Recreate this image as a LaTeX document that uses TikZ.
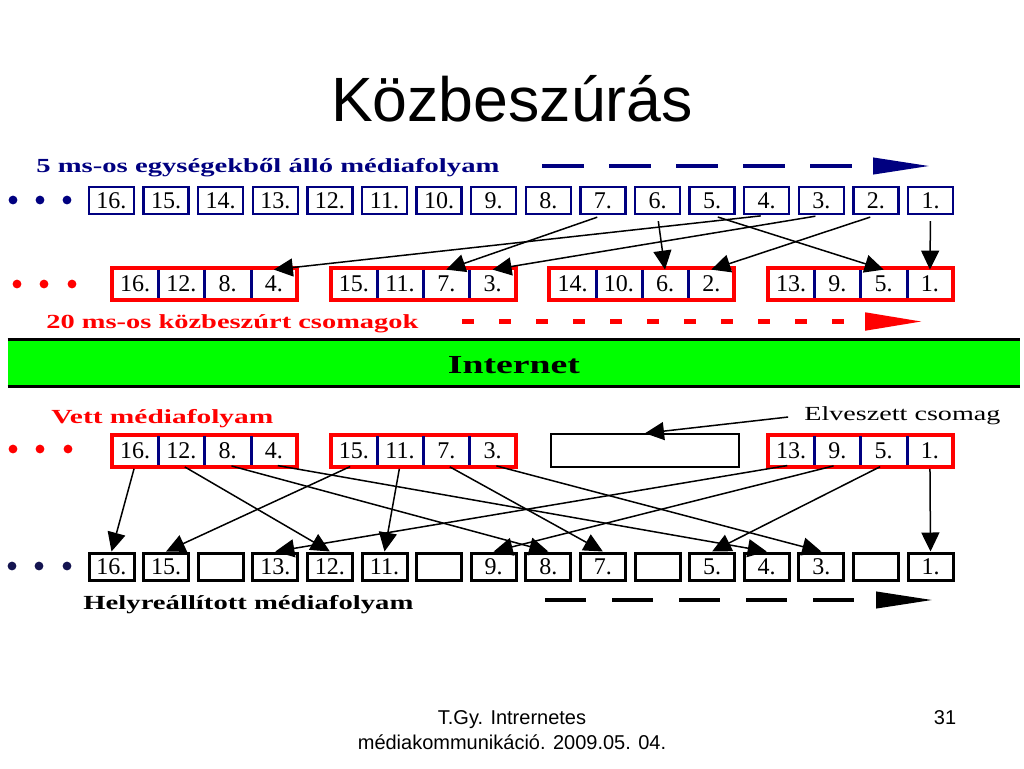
\documentclass[tikz,border=0pt]{standalone}
\usepackage{fontspec}
\setmainfont{Liberation Serif}
\newfontfamily\slidefont{Liberation Sans}
\usepackage{graphicx}
\usetikzlibrary{positioning,arrows.meta}
\definecolor{streamblue}{RGB}{0,0,128}
\definecolor{packetred}{RGB}{255,0,0}
\definecolor{netgreen}{RGB}{0,255,0}
\definecolor{dotblue}{RGB}{20,20,80}
\newcommand{\stretchto}[2]{\resizebox{#1}{\height}{#2}}

\begin{document}
\begin{tikzpicture}[x=0.5pt, y=-0.5pt,
    unitbox/.style={draw=streamblue, line width=1.2pt, minimum width=22.5pt, minimum height=13.5pt, inner sep=0pt, font=\fontsize{12}{14}\selectfont},
    slotbox/.style={unitbox, draw=black, line width=1.5pt},
    cellbox/.style={minimum width=23.125pt, minimum height=14pt, inner sep=0pt, font=\fontsize{12}{14}\selectfont},
    packetbox/.style={draw=packetred, fill=white, line width=2pt, minimum width=92.5pt, minimum height=16pt, inner sep=0pt},
    lostbox/.style={draw=black, line width=0.75pt, minimum width=94pt, minimum height=16.5pt, inner sep=0pt},
    divider/.style={draw=streamblue, line width=1.5pt},
    linkarrow/.style={line width=0.75pt, -{Triangle[length=9.5pt,width=9pt]}},
    flowarrow/.style={line width=2pt, -{Triangle[length=28.5pt,width=8pt]}},
    labeltext/.style={anchor=base west, inner sep=0pt, font=\fontsize{10}{12}\selectfont\bfseries},
    slidetext/.style={anchor=base, inner sep=0pt, font=\slidefont\fontsize{10}{12}\selectfont}]
    \useasboundingbox (0,0) rectangle (1024,768);

    \node[slidetext, font=\slidefont\fontsize{31.3}{36}\selectfont] (title) at (512,121) {Közbeszúrás};

    \node[labeltext, text=streamblue] (streamlabel) at (36,172) {\stretchto{231.5pt}{5 ms-os egységekből álló médiafolyam}};
    \coordinate (streamflow) at (542,166);
    \coordinate (streamflowend) at (930,166);
    \draw[flowarrow, streamblue, dash pattern=on 21pt off 12.5pt] (streamflow) -- (streamflowend);

    \foreach \x in {13,40,67} \fill[streamblue] (\x,200) circle[radius=2.2pt];
    \foreach \n [count=\k from 0] in {16,15,...,1}
        \node[unitbox] (s\n) at ({111.5+\k*54.6},200.5) {\n.};

    \foreach \x in {17,44,72} \fill[packetred] (\x,284) circle[radius=2.2pt];
    \foreach \j in {1,...,4}{
        \node[packetbox] (g\j) at ({204.5+(\j-1)*218.7},284) {};
        \foreach \m in {0,...,3}{
            \pgfmathtruncatemacro{\num}{17-\j-4*\m}
            \node[cellbox] (p\num) at ({135.1+(\j-1)*218.7+\m*46.25},284) {\num.};
        }
    }
    \foreach \num in {16,12,8,15,11,7,14,10,6,13,9,5}
        \draw[divider] (p\num.north east) -- (p\num.south east);

    \foreach \n in {1,...,7}
        \draw[linkarrow, shorten <=3pt] (s\n.south) -- (p\n.north);

    \node[labeltext, text=packetred] (packetlabel) at (46,328) {\stretchto{186pt}{20 ms-os közbeszúrt csomagok}};
    \coordinate (packetflow) at (462,321.5);
    \coordinate (packetflowend) at (923,321.5);
    \draw[flowarrow, packetred, line width=2.5pt, dash pattern=on 6pt off 12.5pt, -{Triangle[length=29pt,width=8.5pt]}] (packetflow) -- (packetflowend);

    \node[fill=netgreen, minimum width=506pt, minimum height=23pt, inner sep=0pt] (net) at (514,363) {};
    \draw[line width=1.5pt] (net.north west) -- (net.north east);
    \draw[line width=1.5pt] (net.south west) -- (net.south east);
    \node[labeltext, anchor=base, font=\fontsize{13}{15}\selectfont\bfseries] (nettext) at (514,373) {\stretchto{66pt}{Internet}};

    \node[labeltext, text=packetred] (receivedlabel) at (51,423) {\stretchto{111pt}{Vett médiafolyam}};
    \node[labeltext, font=\fontsize{10}{12}\selectfont] (lostlabel) at (804,420) {\stretchto{98pt}{Elveszett csomag}};

    \foreach \x in {13,40,68} \fill[packetred] (\x,449) circle[radius=2.2pt];
    \foreach \j in {1,2,4}{
        \node[packetbox] (v\j) at ({204.5+(\j-1)*218.7},450.5) {};
        \foreach \m in {0,...,3}{
            \pgfmathtruncatemacro{\num}{17-\j-4*\m}
            \node[cellbox] (r\num) at ({135.1+(\j-1)*218.7+\m*46.25},450.5) {\num.};
        }
    }
    \foreach \num in {16,12,8,15,11,7,13,9,5}
        \draw[divider] (r\num.north east) -- (r\num.south east);
    \node[lostbox] (lost) at (645,450.5) {};
    \draw[linkarrow, shorten <=8pt] (lostlabel.west) -- (lost.north);

    \foreach \x in {12,39,67} \fill[dotblue] (\x,566) circle[radius=2.2pt];
    \foreach \n/\t [count=\k from 0] in {16/16.,15/15.,14/,13/13.,12/12.,11/11.,10/,9/9.,8/8.,7/7.,6/,5/5.,4/4.,3/3.,2/,1/1.}
        \node[slotbox] (h\n) at ({111.5+\k*54.6},566.5) {\t};

    \foreach \n in {16,15,13,12,11,9,8,7,5,4,3,1}
        \draw[linkarrow, shorten <=2pt] (r\n.south) -- (h\n.north);

    \node[labeltext] (restoredlabel) at (83,609) {\stretchto{165pt}{Helyreállított médiafolyam}};
    \coordinate (restoredflow) at (545,600);
    \coordinate (restoredflowend) at (933,600);
    \draw[flowarrow, dash pattern=on 20.5pt off 13pt] (restoredflow) -- (restoredflowend);

    \node[slidetext] (footer) at (512,724) {T.Gy. Intrernetes};
    \node[slidetext] (footerdate) at (512,749) {médiakommunikáció. 2009.05. 04.};
    \node[slidetext] (pagenum) at (945,724) {31};
\end{tikzpicture}
\end{document}
